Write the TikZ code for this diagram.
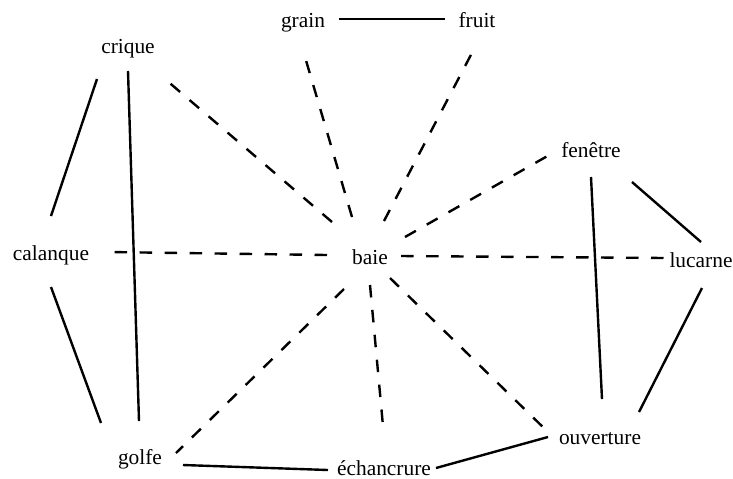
\documentclass[tikz,border=0pt]{standalone}
\usepackage{fontspec}
\setmainfont{Liberation Serif}
\usetikzlibrary{calc}
\begin{document}
\begin{tikzpicture}[x=0.5pt,y=-0.5pt,
  word/.style={anchor=mid,inner sep=0pt,font=\fontsize{10.7}{12}\selectfont},
  rel/.style={line width=1.2pt},
  syn/.style={line width=1.2pt,dash pattern=on 6.25pt off 6.25pt}]
\useasboundingbox (0,0) rectangle (733,478);
\node[word] (baie) at (370,260) {baie};
\node[word] (grain) at (303,23) {grain};
\node[word] (fruit) at (477,23) {fruit};
\node[word] (crique) at (128,49) {crique};
\node[word] (fenetre) at (591,153) {fenêtre};
\node[word] (calanque) at (51,256) {calanque};
\node[word] (lucarne) at (701,263) {lucarne};
\node[word] (golfe) at (140,460) {golfe};
\node[word] (echancrure) at (384,471) {échancrure};
\node[word] (ouverture) at (600,440) {ouverture};
% solid relations
\draw[rel] ($(grain.mid)+(36,-4)$) -- ($(fruit.mid)+(-32,-4)$);
\draw[rel] ($(crique.mid)+(-31,30)$) -- ($(calanque.mid)+(0,-40)$);
\draw[rel] ($(crique.mid)+(0,22)$) -- ($(golfe.mid)+(-1,-39)$);
\draw[rel] ($(calanque.mid)+(0,31)$) -- ($(golfe.mid)+(-39,-37)$);
\draw[rel] ($(golfe.mid)+(43,5)$) -- ($(echancrure.mid)+(-56,-1)$);
\draw[rel] ($(echancrure.mid)+(52,-3)$) -- ($(ouverture.mid)+(-52,-3)$);
\draw[rel] ($(ouverture.mid)+(39,-28)$) -- ($(lucarne.mid)+(1,25)$);
\draw[rel] ($(ouverture.mid)+(2,-41)$) -- ($(fenetre.mid)+(0,24)$);
\draw[rel] ($(fenetre.mid)+(41,29)$) -- ($(lucarne.mid)+(0,-21)$);
% dashed relations from baie
\draw[syn] ($(baie.mid)+(-18,-43)$) -- ($(grain.mid)+(2,34)$);
\draw[syn] ($(baie.mid)+(14,-39)$) -- ($(fruit.mid)+(-3,26)$);
\draw[syn] ($(baie.mid)+(-38,-38)$) -- ($(crique.mid)+(37,30)$);
\draw[syn] ($(baie.mid)+(35,-23)$) -- ($(fenetre.mid)+(-40,1)$);
\draw[syn] ($(baie.mid)+(-43,-5)$) -- ($(calanque.mid)+(57,-4)$);
\draw[syn] ($(baie.mid)+(31,-4)$) -- ($(lucarne.mid)+(-36,-5)$);
\draw[syn] ($(baie.mid)+(-26,29)$) -- ($(golfe.mid)+(36,-7)$);
\draw[syn] ($(baie.mid)+(0,25)$) -- ($(echancrure.mid)+(-1,-45)$);
\draw[syn] ($(baie.mid)+(20,18)$) -- ($(ouverture.mid)+(-52,-8)$);
\end{tikzpicture}
\end{document}
